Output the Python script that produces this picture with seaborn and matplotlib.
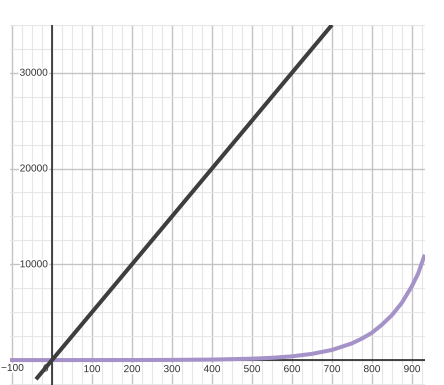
import matplotlib
matplotlib.use("Agg")
import matplotlib.pyplot as plt
import matplotlib.patheffects as pe
import seaborn as sns
import pandas as pd
import numpy as np

# Straight line (dark)
line_x = [-40, 700]
line_y = [-2000, 35000]

# Exponential-looking curve (purple)
curve_x = [-105, 0, 100, 200, 300, 400, 500, 550, 600, 650, 700, 725, 750, 775,
           800, 825, 850, 875, 900, 915, 932]
curve_y = [0.35, 1, 3, 7, 20, 54, 145, 240, 390, 650, 1060, 1400, 1750, 2250,
           2860, 3700, 4700, 6000, 7740, 9000, 11000]

x_ticks = [-100, 100, 200, 300, 400, 500, 600, 700, 800, 900]
y_ticks = [10000, 20000, 30000]

sns.set_style("white")
plt.rcParams['font.family'] = ['Liberation Sans', 'DejaVu Sans']

W, H = 444, 385
fig = plt.figure(figsize=(W / 100, H / 100), dpi=100)
ax = fig.add_axes([10 / W, 0, (425 - 10) / W, (385 - 25) / H])

XMIN, XMAX = -105, 932.5
YMIN, YMAX = -2600, 34980
ax.set_xlim(XMIN, XMAX)
ax.set_ylim(YMIN, YMAX)

# grid
for gx in np.arange(-100, 950, 25):
    major = (gx % 100 == 0)
    ax.axvline(gx, color="#c4c4c4" if major else "#e6e6e6",
               lw=1.0 if major else 0.8, zorder=0)
for gy in np.arange(-2500, 35001, 2500):
    major = (gy % 10000 == 0)
    ax.axhline(gy, color="#c4c4c4" if major else "#e6e6e6",
               lw=1.0 if major else 0.8, zorder=0)

ax.axhline(0, color="#1a1a1a", lw=1.1, zorder=1)
ax.axvline(0, color="#1a1a1a", lw=1.1, zorder=1)

df_line = pd.DataFrame({"x": line_x, "y": line_y})
df_curve = pd.DataFrame({"x": curve_x, "y": curve_y})
sns.lineplot(data=df_curve, x="x", y="y", ax=ax, color="#a592c9", lw=2.9,
             solid_capstyle="butt", zorder=3)
sns.lineplot(data=df_line, x="x", y="y", ax=ax, color="#3e3e3e", lw=2.9,
             solid_capstyle="butt", zorder=4)

for s in ax.spines.values():
    s.set_visible(False)
ax.set_xticks([])
ax.set_yticks([])
ax.set_xlabel("")
ax.set_ylabel("")

halo = [pe.withStroke(linewidth=2.5, foreground="white")]
for t in x_ticks:
    if t < 0:
        # keep the edge label fully inside the picture
        fig.text(1 / W, 1 - 368 / H, str(t).replace("-", "\u2212"),
                 ha="left", va="center", fontsize=7.3, color="#333333",
                 path_effects=halo, zorder=5)
        continue
    ax.annotate(str(t), xy=(t, 0), xytext=(0, -6.5),
                textcoords="offset points", ha="center", va="center",
                fontsize=7.3, color="#333333", path_effects=halo,
                annotation_clip=False, zorder=5)
ax.annotate("0", xy=(0, 0), xytext=(-4.5, -6), textcoords="offset points",
            ha="center", va="center", fontsize=7.3, color="#333333",
            path_effects=halo, zorder=2)
for t in y_ticks:
    ax.annotate(str(t), xy=(0, t), xytext=(-3, 0), textcoords="offset points",
                ha="right", va="center", fontsize=7.3, color="#333333",
                path_effects=halo, zorder=5)

fig.savefig("out.png", dpi=100, facecolor="white")
